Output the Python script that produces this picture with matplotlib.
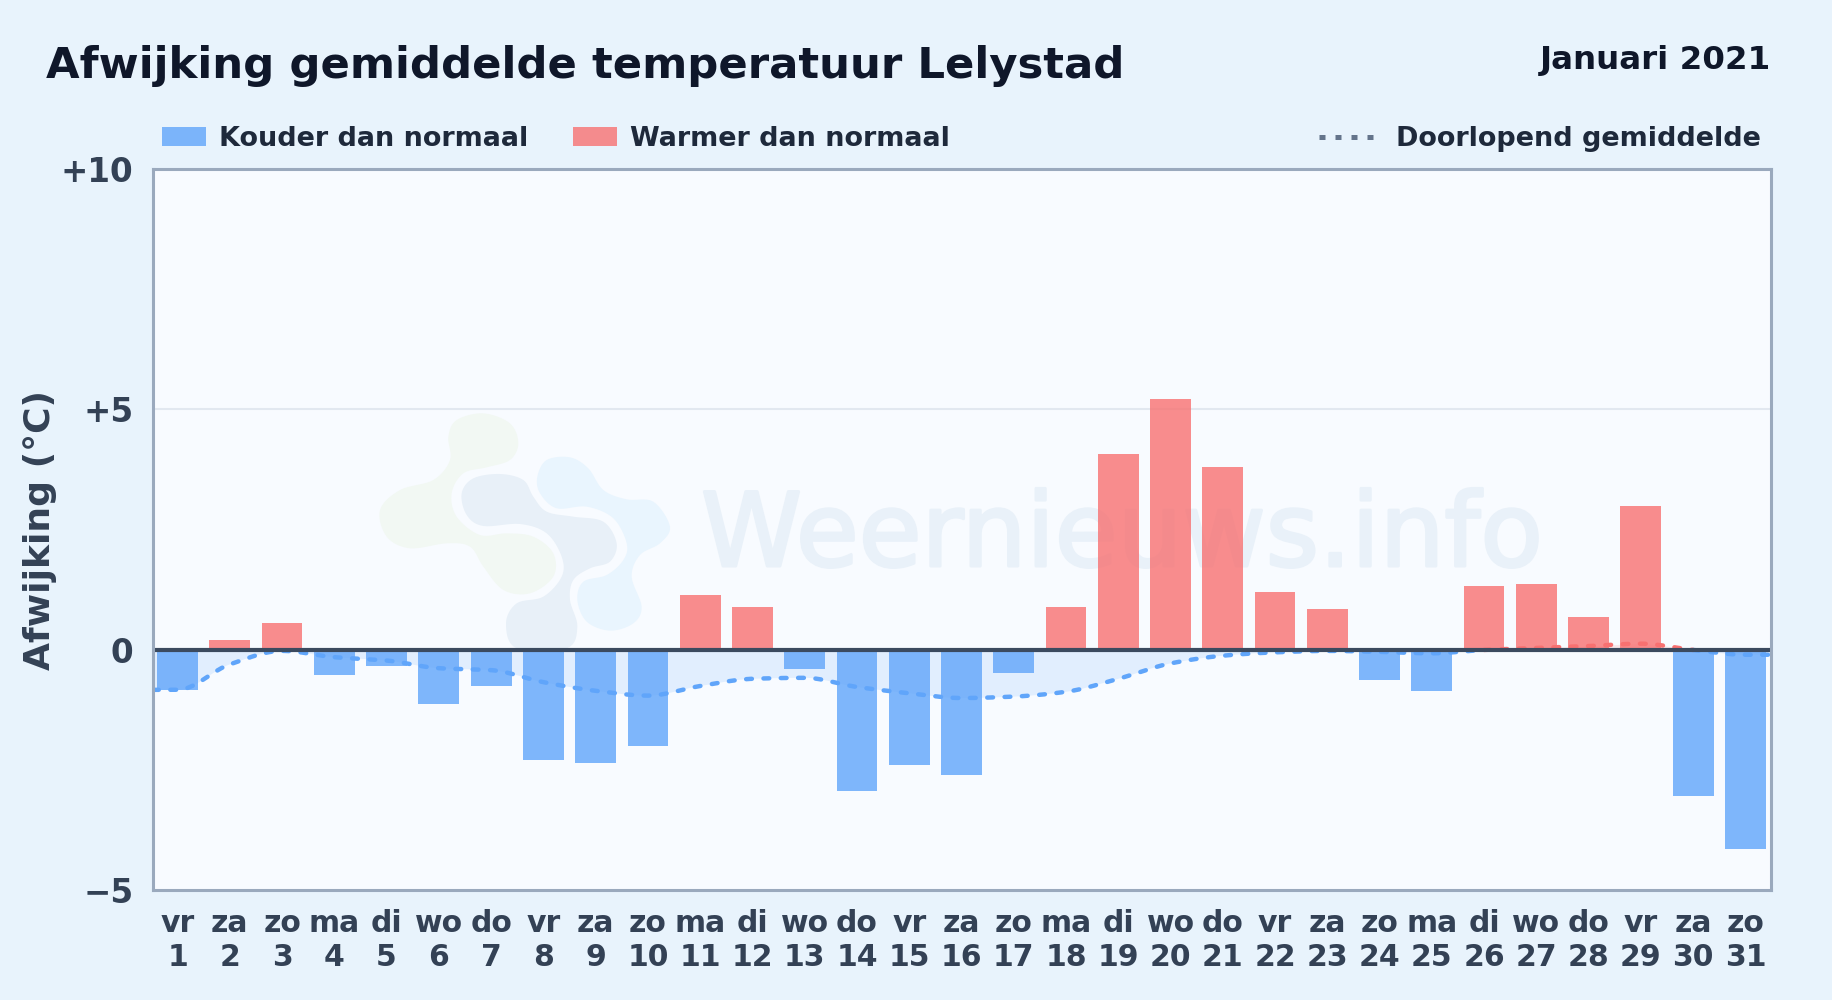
import numpy as np
import matplotlib
matplotlib.use("Agg")
import matplotlib.pyplot as plt
import matplotlib.patheffects as pe
from matplotlib.lines import Line2D
from matplotlib.patches import Patch, Polygon

# Data
days = list(range(1, 32))
weekdays = ["vr", "za", "zo", "ma", "di", "wo", "do", "vr", "za", "zo", "ma", "di", "wo", "do", "vr", "za",
            "zo", "ma", "di", "wo", "do", "vr", "za", "zo", "ma", "di", "wo", "do", "vr", "za", "zo"]
deviation = [-0.83, 0.20, 0.56, -0.53, -0.34, -1.12, -0.75, -2.28, -2.36, -2.00, 1.14, 0.90, -0.39, -2.94, -2.40, -2.60,
             -0.49, 0.90, 4.08, 5.22, 3.81, 1.21, 0.85, -0.63, -0.85, 1.33, 1.38, 0.68, 2.99, -3.04, -4.13]
running_mean = [-0.83, -0.30, -0.02, -0.15, -0.22, -0.38, -0.42, -0.67, -0.85, -0.95, -0.75, -0.60, -0.58, -0.77, -0.90, -1.00,
                -0.97, -0.87, -0.60, -0.28, -0.12, -0.05, -0.02, -0.04, -0.07, 0.00, 0.04, 0.08, 0.13, 0.00, -0.10]
yticks = [-5, 0, 5, 10]
yticklabels = ["\u22125", "0", "+5", "+10"]

W, H = 1832, 1000
BG = "#e8f3fc"
BLUE = "#60a5fa"
RED = "#f87171"
TEXT = "#334155"


def closed_curve(px, py, n=8):
    # Closed Catmull-Rom outline, used for the logo shapes
    px, py = np.asarray(px, float), np.asarray(py, float)
    idx = np.arange(len(px))
    t = np.linspace(0, 1, n, endpoint=False)[:, None]
    out = []
    for p in (px, py):
        p0, p1, p2, p3 = p[np.roll(idx, 1)], p, p[np.roll(idx, -1)], p[np.roll(idx, -2)]
        seg = 0.5 * (2 * p1 + (p2 - p0) * t + (2 * p0 - 5 * p1 + 4 * p2 - p3) * t ** 2
                     + (3 * p1 - p0 - 3 * p2 + p3) * t ** 3)
        out.append(seg.T.ravel())
    return out[0], out[1]


def monotone_curve(px, py, n=24):
    # Monotone cubic through the points, no overshoot at the turning points
    px, py = np.asarray(px, float), np.asarray(py, float)
    h = np.diff(px)
    d = np.diff(py) / h
    m = np.zeros(len(px))
    m[0], m[-1] = d[0], d[-1]
    for i in range(1, len(px) - 1):
        if d[i - 1] * d[i] > 0:
            m[i] = 2 * d[i - 1] * d[i] / (d[i - 1] + d[i])
    xs, ys = [], []
    for i in range(len(h)):
        t = np.linspace(0, 1, n, endpoint=False)
        xs.append(px[i] + t * h[i])
        ys.append((2 * t ** 3 - 3 * t ** 2 + 1) * py[i] + (t ** 3 - 2 * t ** 2 + t) * h[i] * m[i]
                  + (3 * t ** 2 - 2 * t ** 3) * py[i + 1] + (t ** 3 - t ** 2) * h[i] * m[i + 1])
    return np.append(np.concatenate(xs), px[-1]), np.append(np.concatenate(ys), py[-1])


plt.rcParams["font.family"] = "DejaVu Sans"
fig = plt.figure(figsize=(W / 100, H / 100), dpi=100, facecolor=BG)
ax = fig.add_axes([153 / W, 1 - 890.4 / H, (1771 - 153) / W, (890.4 - 169) / H], facecolor="#f8fbff")

ax.set_xlim(0.53, 31.49)
ax.set_ylim(-5, 10)

# Watermark logo, outlines in pixels of the picture
green_logo = [(325, 170), (350, 120), (430, 100), (510, 130), (535, 190), (510, 240), (440, 262), (370, 280), (335, 340),
              (350, 410), (420, 465), (500, 460), (580, 470), (640, 520), (640, 590), (570, 640), (490, 630), (430, 560),
              (390, 500), (320, 490), (210, 505), (140, 470), (120, 390), (180, 330), (280, 300), (330, 240)]
grey_logo = [(365, 340), (400, 295), (480, 282), (550, 300), (580, 350), (620, 395), (700, 410), (790, 425), (830, 490),
             (810, 545), (750, 565), (700, 600), (690, 660), (712, 740), (680, 805), (530, 805), (498, 730), (530, 670),
             (610, 650), (665, 590), (665, 530), (620, 460), (540, 432), (430, 438), (380, 405)]
light_logo = [(592, 290), (620, 240), (690, 232), (745, 265), (790, 330), (860, 358), (940, 365), (990, 440), (960, 490),
              (900, 525), (875, 590), (905, 680), (880, 730), (810, 752), (740, 725), (712, 660), (730, 605), (800, 585),
              (850, 540), (860, 490), (820, 415), (740, 380), (650, 385), (600, 340)]
for outline, color in [(green_logo, "#f2f8f3"), (grey_logo, "#e8f0f8"), (light_logo, "#e9f5fe")]:
    lx, ly = closed_curve([p[0] for p in outline], [p[1] for p in outline])
    fx = (340 + lx / 3) / W
    fy = 1 - (380 + ly / 3) / H
    ax.add_patch(Polygon(np.column_stack([fx, fy]), closed=True, transform=fig.transFigure, facecolor=color,
                         edgecolor="none", zorder=0.5))

ax.text(701 / W, 1 - 566 / H, "Weernieuws.info", transform=fig.transFigure, fontsize=73.5, color="#e9f1f9",
        ha="left", va="baseline", zorder=0.6,
        path_effects=[pe.withStroke(linewidth=2.2, foreground="#e9f1f9")])

# Grid
ax.axhline(5, color="#e2e8f0", linewidth=1.5, zorder=1)

# Running mean, curve runs on to both edges of the plot
line_x = [ax.get_xlim()[0]] + days + [ax.get_xlim()[1]]
line_y = [running_mean[0]] + running_mean + [running_mean[-1]]
sx, sy = monotone_curve(line_x, line_y)
ax.fill_between(sx, sy, 0, where=sy <= 0, interpolate=True, color=BLUE, alpha=0.15, linewidth=0, zorder=1.5)
ax.fill_between(sx, sy, 0, where=sy >= 0, interpolate=True, color=RED, alpha=0.15, linewidth=0, zorder=1.5)

# Bars
colors = [BLUE if v < 0 else RED for v in deviation]
ax.bar(days, deviation, width=0.78, color=colors, alpha=0.8, linewidth=0, zorder=2)

dots = (0, (1.3, 2.6))
ax.plot(sx, np.ma.masked_where(sy > 0, sy), color=BLUE, linewidth=3.2, linestyle=dots, dash_capstyle="round", zorder=3)
ax.plot(sx, np.ma.masked_where(sy < 0, sy), color=RED, linewidth=3.2, linestyle=dots, dash_capstyle="round", zorder=3)

ax.axhline(0, color="#3b4a5f", linewidth=3, zorder=4)

# Axes
for spine in ax.spines.values():
    spine.set_color("#9aa9bd")
    spine.set_linewidth(2.2)
    spine.set_zorder(5)

ax.set_yticks(yticks)
ax.set_yticklabels(yticklabels, fontsize=23.5, fontweight="bold", color=TEXT)
ax.set_xticks(days)
ax.set_xticklabels([f"{w}\n{d}" for w, d in zip(weekdays, days)], fontsize=21.5, fontweight="bold", color=TEXT,
                   linespacing=1.22)
ax.tick_params(axis="x", length=0, pad=13.4)
ax.tick_params(axis="y", length=0, pad=14)
fig.text(40 / W, 1 - 530 / H, "Afwijking (\u00b0C)", rotation=90, fontsize=26, fontweight="bold", color=TEXT,
         ha="center", va="center")

# Title
fig.text(46 / W, 1 - 66 / H, "Afwijking gemiddelde temperatuur Lelystad", fontsize=31.25, fontweight="bold",
         color="#0f172a", ha="left", va="center")
fig.text(1771 / W, 1 - 61 / H, "Januari 2021", fontsize=23.4, fontweight="bold", color="#0f172a", ha="right", va="center")

# Legends
leg_size = 19.45
leg_px = leg_size / 0.72
handles = [Patch(facecolor=BLUE, alpha=0.8, linewidth=0), Patch(facecolor=RED, alpha=0.8, linewidth=0)]
left_legend = fig.legend(handles, ["Kouder dan normaal", "Warmer dan normaal"], loc="center left",
                         bbox_to_anchor=(162 / W, 1 - 139 / H), ncol=2, frameon=False, borderpad=0, borderaxespad=0,
                         handlelength=44 / leg_px, handleheight=19 / leg_px, handletextpad=13 / leg_px,
                         columnspacing=45 / leg_px, prop={"size": leg_size, "weight": "bold"}, labelcolor="#1e293b")
dotted = Line2D([0], [0], color="#64748b", linewidth=3.6, linestyle=(0, (1.2, 2)), dash_capstyle="butt")
right_legend = fig.legend([dotted], ["Doorlopend gemiddelde"], loc="center right",
                          bbox_to_anchor=(1761 / W, 1 - 139 / H), frameon=False, borderpad=0, borderaxespad=0,
                          handlelength=55 / leg_px, handletextpad=22 / leg_px,
                          prop={"size": leg_size, "weight": "bold"}, labelcolor="#1e293b")

fig.savefig("out.png", dpi=100, facecolor=BG)
